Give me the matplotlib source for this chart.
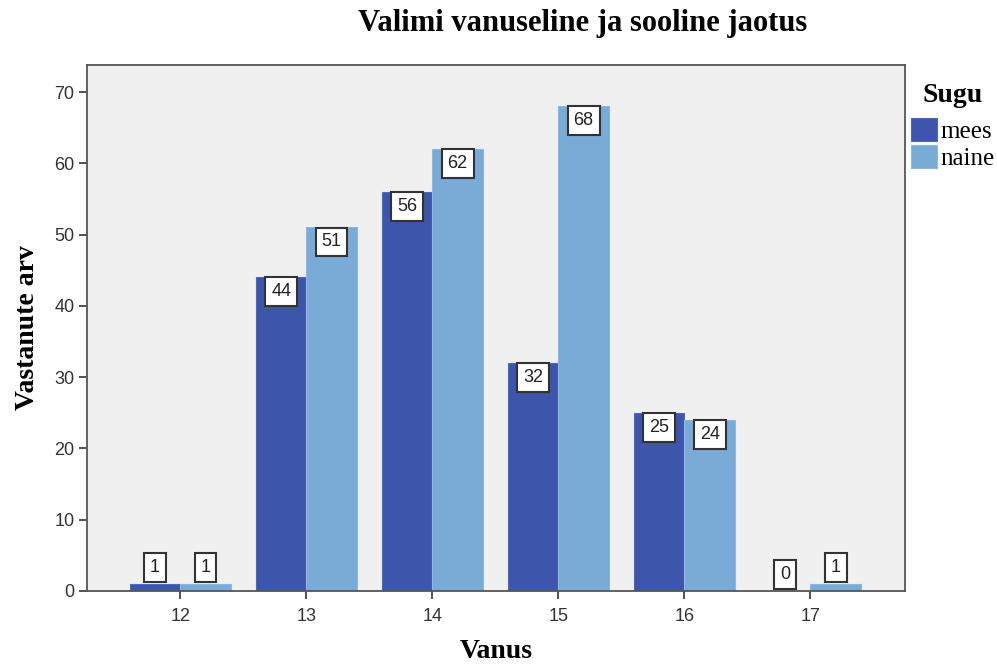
import numpy as np
import matplotlib
matplotlib.use('Agg')
import matplotlib.pyplot as plt

# andmed
vanus = [12, 13, 14, 15, 16, 17]
mees = [1, 44, 56, 32, 25, 0]
naine = [1, 51, 62, 68, 24, 1]

serif = ['Liberation Serif', 'DejaVu Serif']
sans = ['Liberation Sans', 'DejaVu Sans']

fig = plt.figure(figsize=(9.97, 6.65), dpi=100)
ax = fig.add_axes([0.0873, 0.1113, 0.8204, 0.791])
ax.set_facecolor('#f0f0f0')

x = np.array(vanus, dtype=float)
w = 0.4
b1 = ax.bar(x - w / 2, mees, width=w, color='#3d55ab', edgecolor='#5068b8', linewidth=0.8, label='mees')
b2 = ax.bar(x + w / 2, naine, width=w, color='#7aaad6', edgecolor='#8db8de', linewidth=0.8, label='naine')

# sildid
box = dict(boxstyle='square,pad=0.33', fc='white', ec='#333333', lw=1.5)
for bars, vals in ((b1, mees), (b2, naine)):
    for rect, v in zip(bars, vals):
        cx = rect.get_x() + rect.get_width() / 2
        if v >= 5:
            ax.annotate(str(v), (cx, v), xytext=(0, -6), textcoords='offset pixels',
                        ha='center', va='top', fontsize=13, family=sans, color='#222222', bbox=box)
        else:
            ax.annotate(str(v), (cx, v), xytext=(0, 8), textcoords='offset pixels',
                        ha='center', va='bottom', fontsize=13, family=sans, color='#222222', bbox=box)

ax.set_xlim(11.26, 17.75)
ax.set_ylim(0, 73.8)
ax.set_xticks(vanus)
ax.set_yticks(range(0, 71, 10))
for lab in ax.get_xticklabels() + ax.get_yticklabels():
    lab.set_family(sans)
ax.tick_params(direction='out', length=6, width=1.3, color='#444444', labelsize=13,
               labelcolor='#333333', pad=3)
ax.tick_params(axis='x', pad=6)
for s in ax.spines.values():
    s.set_color('#555555')
    s.set_linewidth(1.3)

ax.set_xlabel('Vanus', family=serif, fontweight='bold', fontsize=20)
ax.xaxis.set_label_coords(0.5, -0.092)
ax.set_ylabel('Vastanute arv', family=serif, fontweight='bold', fontsize=20)
ax.yaxis.set_label_coords(-0.058, 0.5)
fig.text(0.584, 0.965, 'Valimi vanuseline ja sooline jaotus', ha='center', va='center',
         family=serif, fontweight='bold', fontsize=22)

leg = ax.legend(loc='upper left', bbox_to_anchor=(0.995, 0.985), frameon=False,
                title='Sugu', prop={'family': serif, 'size': 18},
                handlelength=1.05, handleheight=1.05, handletextpad=0.12,
                labelspacing=0.1, borderaxespad=0.0)
leg.get_title().set_family(serif)
leg.get_title().set_fontweight('bold')
leg.get_title().set_fontsize(20)
leg._legend_box.align = 'center'
leg._legend_box.sep = 7

fig.savefig('out.png', dpi=100)
